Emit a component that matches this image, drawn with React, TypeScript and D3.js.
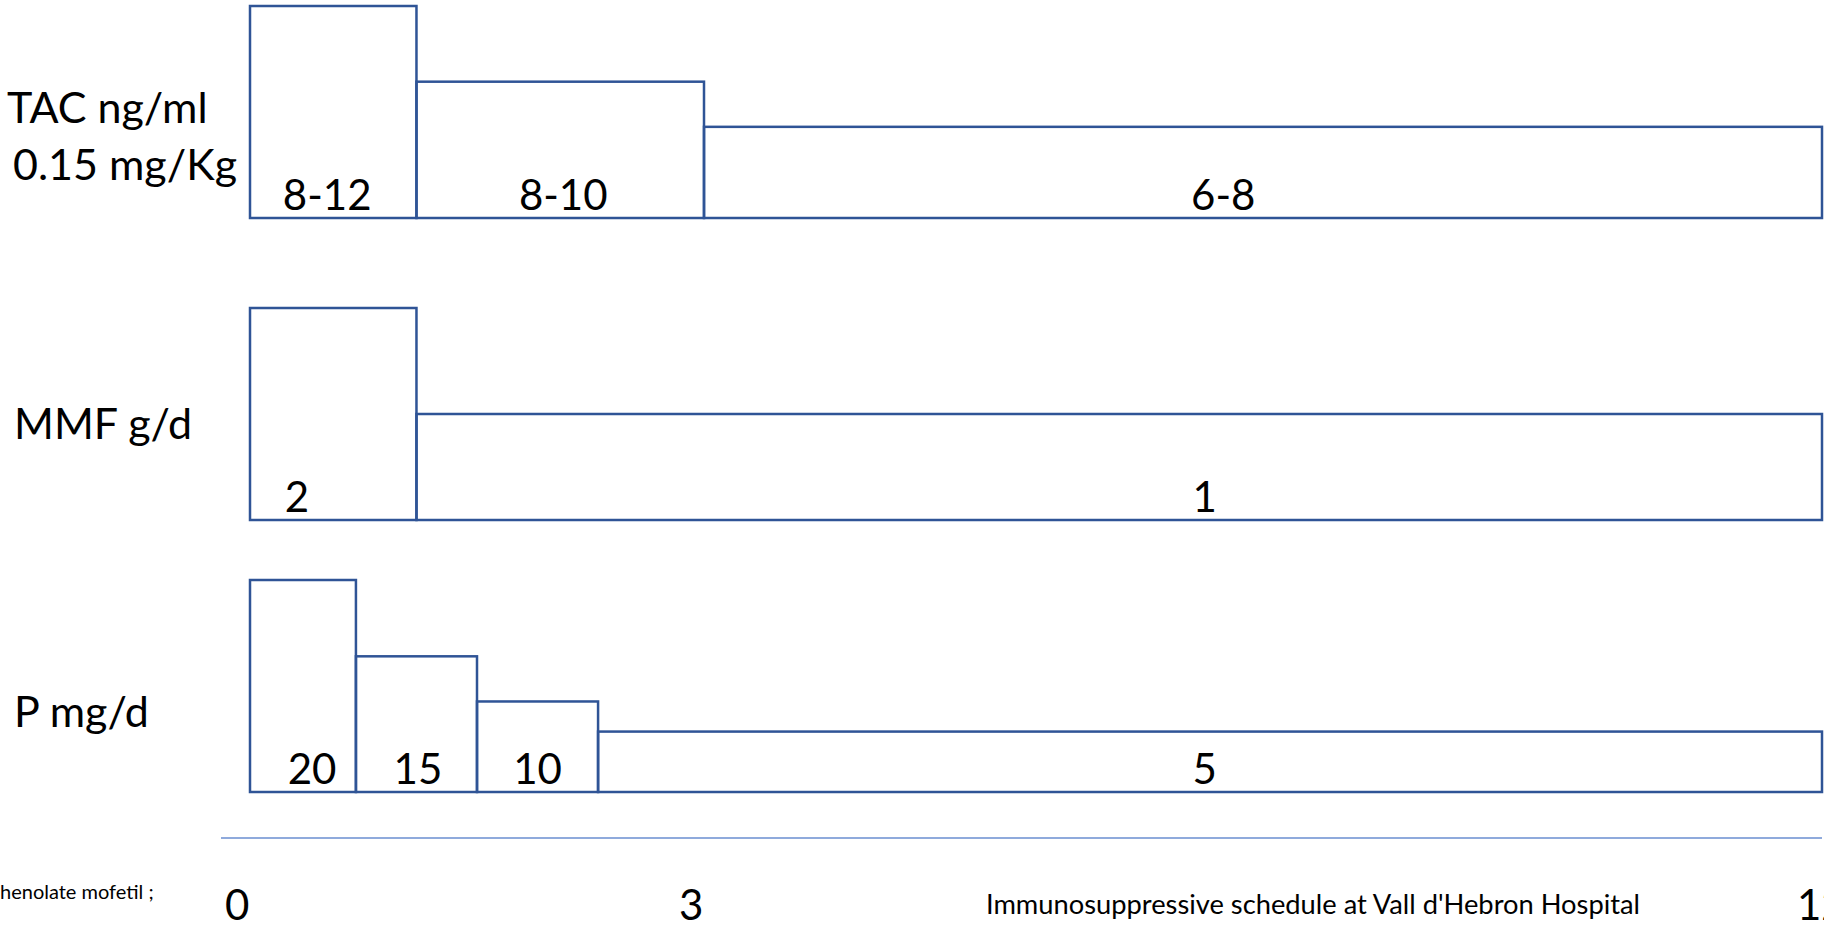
import React from 'react';
import * as d3 from 'd3';

const W = 1824;
const H = 928;

// Time axis (months)
const monthTicks = [0, 3, 12];
const monthTickLabels = ['0', '3', '12'];

// Row titles
const tacTitle = ['TAC ng/ml', '0.15 mg/Kg'];
const mmfTitle = ['MMF g/d'];
const pTitle = ['P mg/d'];

// Tacrolimus target levels
const tacBreaks = [0, 1.1, 3, 12];
const tacLevels = [1, 0.643, 0.43];
const tacTexts = ['8-12', '8-10', '6-8'];
const tacTextAt = [0.51, 2.07, 7.18];

// Mycophenolate mofetil dose
const mmfBreaks = [0, 1.1, 12];
const mmfLevels = [1, 0.5];
const mmfTexts = ['2', '1'];
const mmfTextAt = [0.31, 7.03];

// Prednisone dose
const pBreaks = [0, 0.7, 1.5, 2.3, 12];
const pLevels = [1, 0.64, 0.427, 0.285];
const pTexts = ['20', '15', '10', '5'];
const pTextAt = [0.41, 1.11, 1.9, 7.03];

const caption = "Immunosuppressive schedule at Vall d'Hebron Hospital";
const footnote = 'henolate mofetil ;';

const FONT = 'Lato, "Open Sans", sans-serif';
const BOX = '#2F5496';

export default function App() {
  const x = d3.scaleLinear().domain([0, 3, 12]).range([250, 704, 1822]);
  const rowH = 212;

  const rows = [
    { bottom: 218, breaks: tacBreaks, levels: tacLevels, texts: tacTexts, at: tacTextAt, title: tacTitle, titleY: [123, 180], titleX: [7, 13] },
    { bottom: 520, breaks: mmfBreaks, levels: mmfLevels, texts: mmfTexts, at: mmfTextAt, title: mmfTitle, titleY: [439], titleX: [14] },
    { bottom: 792, breaks: pBreaks, levels: pLevels, texts: pTexts, at: pTextAt, title: pTitle, titleY: [727], titleX: [14] },
  ];

  return (
    <svg width={W} height={H} style={{ position: 'absolute', left: 0, top: 0, display: 'block', background: '#fff' }} fontFamily={FONT}>
      <rect x={0} y={0} width={W} height={H} fill="#fff" />
      {rows.map((r, ri) => {
        const y = d3.scaleLinear().domain([0, 1]).range([r.bottom, r.bottom - rowH]);
        return (
          <g key={ri}>
            {r.levels.map((lv, i) => (
              <rect
                key={i}
                x={x(r.breaks[i])}
                y={y(lv)}
                width={x(r.breaks[i + 1]) - x(r.breaks[i])}
                height={y(0) - y(lv)}
                fill="none"
                stroke={BOX}
                strokeWidth={2.5}
              />
            ))}
            {r.texts.map((t, i) => (
              <text key={'t' + i} x={x(r.at[i])} y={r.bottom - 8} textAnchor="middle" fontSize={42} fill="#000">
                {t}
              </text>
            ))}
            {r.title.map((t, i) => (
              <text key={'h' + i} x={r.titleX[i]} y={r.titleY[i]} fontSize={43} fill="#000">
                {t}
              </text>
            ))}
          </g>
        );
      })}
      <line x1={x(0) - 29} x2={x(12)} y1={838} y2={838} stroke="#8FAADC" strokeWidth={2} />
      {monthTicks.map((m, i) => (
        <text key={m} x={x(m) - 25} y={920} fontSize={42} fill="#000">
          {monthTickLabels[i]}
        </text>
      ))}
      <text x={986} y={914} fontSize={27} fill="#000" textLength={654} lengthAdjust="spacingAndGlyphs">
        {caption}
      </text>
      <text x={0} y={899} fontSize={20} fill="#000">
        {footnote}
      </text>
    </svg>
  );
}
